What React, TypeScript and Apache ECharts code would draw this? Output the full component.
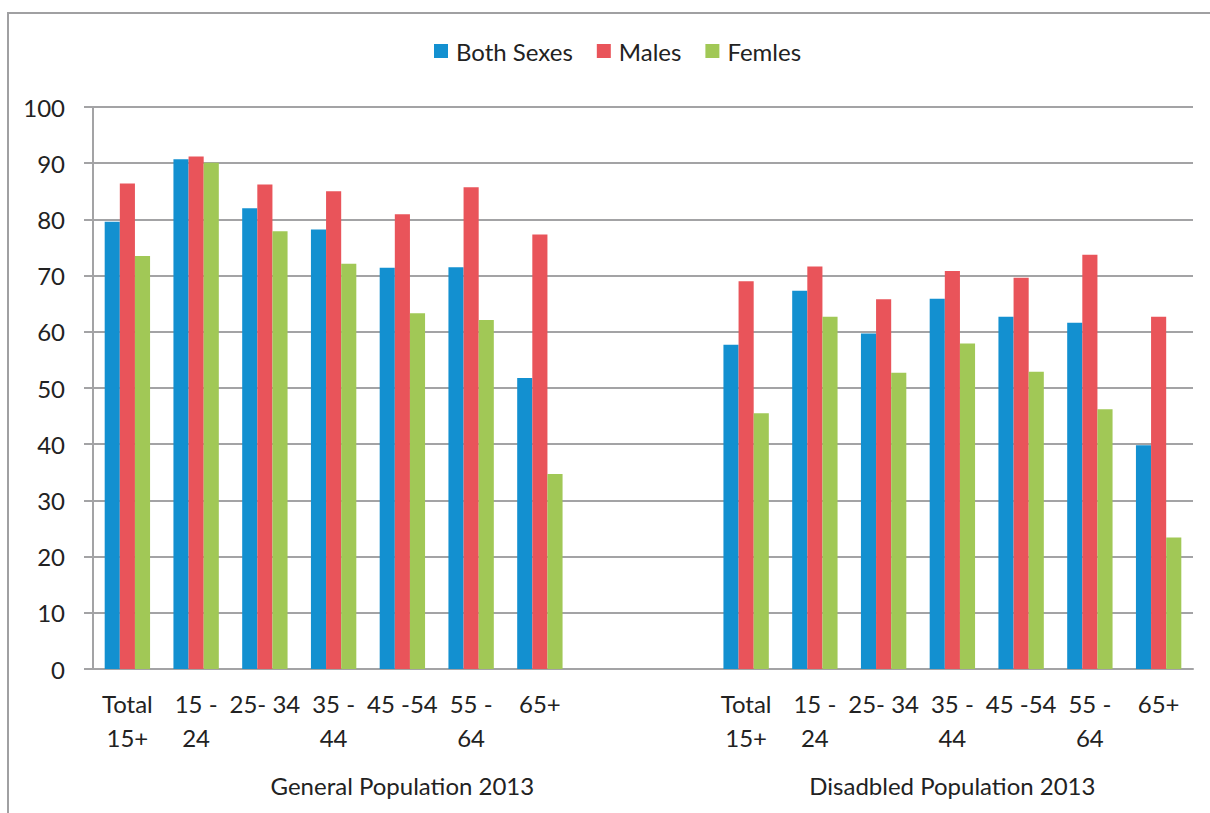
import React, { useEffect, useRef } from "react";
import * as echarts from "echarts";

// Age groups shown under each population block
const ageGroups = ["Total\n15+", "15 -\n24", "25- 34", "35 -\n44", "45 -54", "55 -\n64", "65+"];
const groupNames = ["General Population 2013", "Disadbled Population 2013"];
const seriesNames = ["Both Sexes", "Males", "Femles"];

// Values (%) for the general population
const bothGeneral = [79.6, 90.7, 82.0, 78.2, 71.4, 71.5, 51.8];
const malesGeneral = [86.4, 91.2, 86.2, 85.0, 80.9, 85.7, 77.3];
const femalesGeneral = [73.5, 90.1, 77.9, 72.1, 63.3, 62.1, 34.7];

// Values (%) for the disabled population
const bothDisabled = [57.7, 67.3, 59.7, 65.9, 62.7, 61.6, 39.8];
const malesDisabled = [69.0, 71.6, 65.8, 70.8, 69.6, 73.7, 62.7];
const femalesDisabled = [45.5, 62.7, 52.7, 57.9, 52.9, 46.2, 23.4];

const yTicks = { min: 0, max: 100, interval: 10 };

const colors = ["#1390d0", "#e9545a", "#a1c856"];
const FONT = "Lato, 'Noto Sans', sans-serif";
const FONT_SIZE = 24;
const TEXT = "#222222";
const GRID = "#a3a3a5";

export default function App() {
  const ref = useRef<HTMLDivElement>(null);

  useEffect(() => {
    document.body.style.margin = "0";
    if (!ref.current) return;
    const chart = echarts.init(ref.current, undefined, { renderer: "svg" });

    // Two blank slots separate the two population blocks
    const gap = ["", ""];
    const categories = [...ageGroups, ...gap, ...ageGroups];
    const blanks = [null, null];
    const join = (a: number[], b: number[]) => [...a, ...blanks, ...b];

    // Group captions sit under the middle slot of each block
    const groupLabels = categories.map(() => "");
    groupLabels[4] = groupNames[0];
    groupLabels[12] = groupNames[1];

    const seriesData = [
      join(bothGeneral, bothDisabled),
      join(malesGeneral, malesDisabled),
      join(femalesGeneral, femalesDisabled),
    ];

    chart.setOption({
      animation: false,
      color: colors,
      textStyle: { fontFamily: FONT },
      legend: {
        top: 34,
        left: 429,
        itemWidth: 14,
        itemHeight: 14,
        itemGap: 24,
        icon: "rect",
        textStyle: { fontFamily: FONT, fontSize: FONT_SIZE, color: TEXT, padding: [0, 0, 0, 3] },
        data: seriesNames,
      },
      grid: { left: 93, top: 107, width: 1100, height: 562, containLabel: false },
      xAxis: [
        {
          type: "category",
          data: categories,
          axisLine: { show: true, lineStyle: { color: GRID, width: 2 } },
          axisTick: { show: false },
          axisLabel: {
            interval: 0,
            margin: 17,
            fontFamily: FONT,
            fontSize: FONT_SIZE,
            lineHeight: 34,
            color: TEXT,
          },
        },
        {
          type: "category",
          position: "bottom",
          data: groupLabels,
          axisLine: { show: false },
          axisTick: { show: false },
          axisLabel: {
            interval: 0,
            margin: 99,
            fontFamily: FONT,
            fontSize: FONT_SIZE,
            lineHeight: 34,
            color: TEXT,
          },
        },
      ],
      yAxis: {
        type: "value",
        min: yTicks.min,
        max: yTicks.max,
        interval: yTicks.interval,
        axisLine: { show: true, lineStyle: { color: GRID, width: 2 } },
        axisTick: { show: true, length: 9, lineStyle: { color: GRID, width: 2 } },
        splitLine: { show: true, lineStyle: { color: GRID, width: 2 } },
        axisLabel: { margin: 28, fontFamily: FONT, fontSize: FONT_SIZE, color: TEXT },
      },
      graphic: [
        {
          type: "rect",
          shape: { x: 8, y: 13, width: 1400, height: 1000 },
          style: { fill: "none", stroke: "#a0a0a2", lineWidth: 2 },
          silent: true,
        },
      ],
      series: seriesNames.map((name, i) => ({
        name,
        type: "bar",
        xAxisIndex: 0,
        data: seriesData[i],
        barGap: "0%",
        barCategoryGap: "34%",
        itemStyle: { color: colors[i] },
      })),
    });

    return () => chart.dispose();
  }, []);

  return <div ref={ref} style={{ width: 1210, height: 813 }} />;
}
